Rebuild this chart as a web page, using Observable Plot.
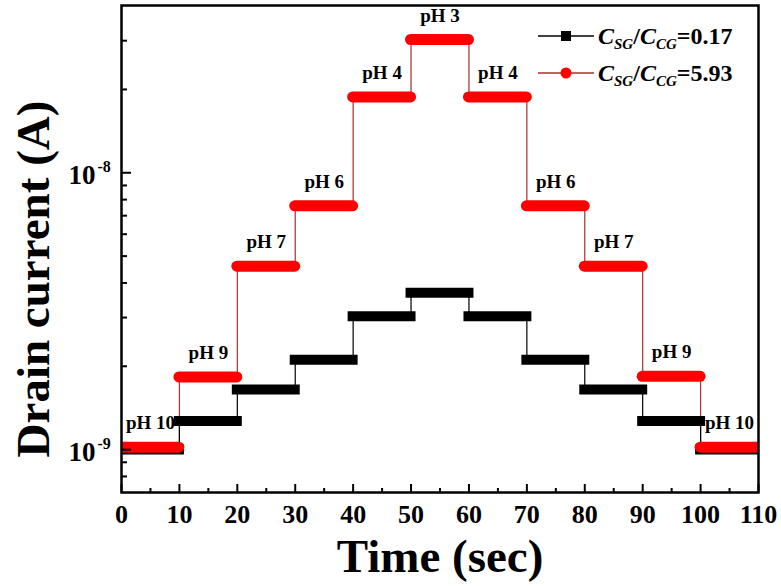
<!DOCTYPE html>
<html>
<head>
<meta charset="utf-8">
<script src="https://cdn.jsdelivr.net/npm/d3@7"></script>
<script src="https://cdn.jsdelivr.net/npm/@observablehq/plot@0.6"></script>
<style>
  html, body { margin: 0; padding: 0; background: #fff; }
  #wrap { position: relative; width: 781px; height: 586px; }
  #legend { position: absolute; left: 0; top: 0; pointer-events: none; }
</style>
</head>
<body>
<div id="wrap"></div>
<script>
// ---- data ----
const stepStarts = [0, 10, 20, 30, 40, 50, 60, 70, 80, 90, 100];
const stepLength = 10;
const phLabels = ["pH 10", "pH 9", "pH 7", "pH 6", "pH 4", "pH 3", "pH 4", "pH 6", "pH 7", "pH 9", "pH 10"];
const currentHigh = [1.02e-9, 1.83e-9, 4.6e-9, 7.6e-9, 1.88e-8, 3.03e-8, 1.88e-8, 7.6e-9, 4.6e-9, 1.84e-9, 1.02e-9]; // C_SG/C_CG = 5.93
const currentLow  = [1.0e-9, 1.27e-9, 1.65e-9, 2.11e-9, 3.03e-9, 3.69e-9, 3.03e-9, 2.11e-9, 1.65e-9, 1.27e-9, 1.0e-9]; // C_SG/C_CG = 0.17
const seriesNames = ["0.17", "5.93"];
const xTicks = [0, 10, 20, 30, 40, 50, 60, 70, 80, 90, 100, 110];
const xMinorTicks = [5, 15, 25, 35, 45, 55, 65, 75, 85, 95, 105];
const yMajorTicks = [1e-9, 1e-8];
const yMajorExp = ["-9", "-8"];
const yMinorTicks = [8e-10, 9e-10, 2e-9, 3e-9, 4e-9, 5e-9, 6e-9, 7e-9, 8e-9, 9e-9, 2e-8, 3e-8];

// ---- derived tables ----
const segs = (vals) => stepStarts.map((t0, i) => ({t0, t1: t0 + stepLength, v: vals[i], label: phLabels[i]}));
const pts = (vals) => stepStarts.flatMap((t0, i) => [{t: t0, v: vals[i]}, {t: t0 + stepLength, v: vals[i]}]);
const redSegs = segs(currentHigh), blackSegs = segs(currentLow);

const serif = "'Liberation Serif', 'Times New Roman', serif";

const chart = Plot.plot({
  width: 781, height: 586,
  marginLeft: 121, marginRight: 23, marginTop: 5, marginBottom: 94,
  style: {fontFamily: serif, background: "white", color: "black", overflow: "visible"},
  x: {domain: [0, 110]},
  y: {type: "log", domain: [7e-10, 4.02e-8]},
  marks: [
    Plot.line(pts(currentHigh), {x: "t", y: "v", stroke: "#a8302c", strokeWidth: 1.2, clip: true}),
    Plot.line(pts(currentLow), {x: "t", y: "v", stroke: "black", strokeWidth: 1.2, clip: true}),
    Plot.ruleY(blackSegs, {y: "v", x1: "t0", x2: "t1", stroke: "black", strokeWidth: 10, strokeLinecap: "square", clip: true}),
    Plot.ruleY(redSegs, {y: "v", x1: "t0", x2: "t1", stroke: "#ff0000", strokeWidth: 11, strokeLinecap: "round", clip: true}),
    Plot.text(redSegs, {x: d => (d.t0 + d.t1) / 2, y: "v", text: "label", dy: -24, fontSize: 19, fontWeight: "bold", fill: "black"}),
    // axes
    Plot.axisX({ticks: xTicks, tickSize: -8, tickFormat: () => "", label: null, strokeWidth: 2}),
    Plot.axisX({ticks: xMinorTicks, tickSize: -4, tickFormat: () => "", label: null, strokeWidth: 2}),
    Plot.axisY({ticks: yMajorTicks, tickSize: -10, tickFormat: () => "", label: null, strokeWidth: 2}),
    Plot.axisY({ticks: yMinorTicks, tickSize: -6, tickFormat: () => "", label: null, strokeWidth: 2}),
    Plot.text(xTicks, {x: d => d, frameAnchor: "bottom", dy: 30, text: d => String(d), fontSize: 26, fontWeight: "bold"}),
    Plot.text(yMajorTicks, {y: d => d, frameAnchor: "left", dx: -26, dy: 3, text: () => "10", textAnchor: "end", fontSize: 27, fontWeight: "bold"}),
    Plot.text(yMajorTicks, {y: d => d, frameAnchor: "left", dx: -24, dy: -6, text: (d, i) => yMajorExp[i], textAnchor: "start", fontSize: 16, fontWeight: "bold"}),
    Plot.text(["Time (sec)"], {frameAnchor: "bottom", dy: 79, textAnchor: "middle", fontSize: 47, fontWeight: "bold"}),
    Plot.text(["Drain current (A)"], {frameAnchor: "left", dx: -88, dy: 30, rotate: -90, textAnchor: "middle", fontSize: 47, fontWeight: "bold"}),
    Plot.frame({stroke: "black", strokeWidth: 2.5})
  ]
});

const wrap = document.getElementById("wrap");
wrap.appendChild(chart);

// legend (inside plot, top-right)
const ns = "http://www.w3.org/2000/svg";
const leg = document.createElementNS(ns, "svg");
leg.setAttribute("id", "legend");
leg.setAttribute("width", 781);
leg.setAttribute("height", 586);
const legendRows = [
  {name: seriesNames[0], y: 36, line: "black", marker: "square"},
  {name: seriesNames[1], y: 73, line: "#a8302c", marker: "circle"}
];
let html = "";
for (const r of legendRows) {
  html += `<line x1="538" x2="594" y1="${r.y}" y2="${r.y}" stroke="${r.line}" stroke-width="1.5"/>`;
  if (r.marker === "square") html += `<rect x="561" y="${r.y - 5}" width="10" height="10" fill="black"/>`;
  else html += `<circle cx="566" cy="${r.y}" r="5.5" fill="#ff0000"/>`;
  html += `<text x="598" y="${r.y + 8}" font-family="${serif.replace(/"/g, "")}" font-size="24" font-weight="bold" fill="black">` +
    `<tspan font-style="italic">C</tspan><tspan font-style="italic" font-size="15" dy="5">SG</tspan>` +
    `<tspan dy="-5">/</tspan><tspan font-style="italic">C</tspan><tspan font-style="italic" font-size="15" dy="5">CG</tspan>` +
    `<tspan dy="-5">=${r.name}</tspan></text>`;
}
leg.innerHTML = html;
wrap.appendChild(leg);
</script>
</body>
</html>
